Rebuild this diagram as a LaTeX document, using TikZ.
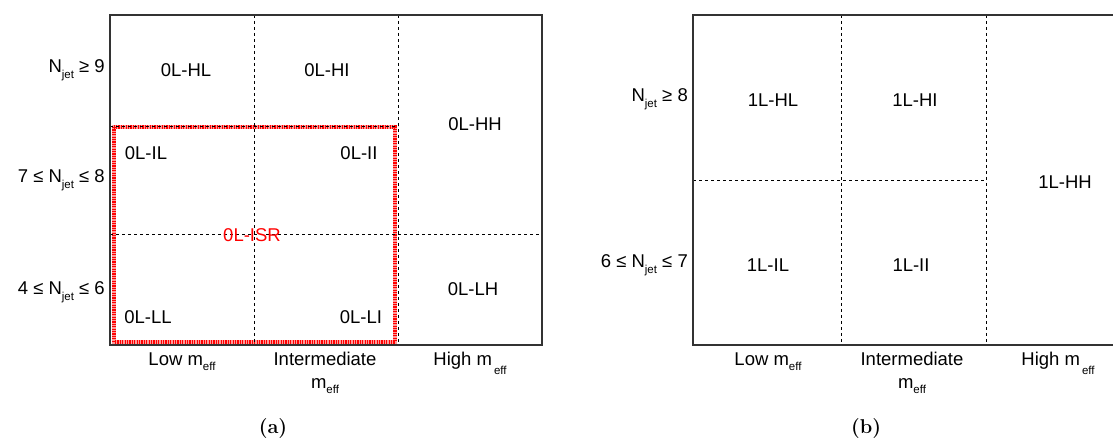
\documentclass[tikz,border=0pt]{standalone}
\usepackage{fontspec}
\newfontfamily\rootfont{Liberation Sans}
\usetikzlibrary{positioning}
\newcommand\lowsub[1]{\raisebox{-0.55ex}{\fontsize{11.5}{12}\selectfont #1}}
\newcommand\deepsub[1]{\hspace{2pt}\raisebox{-1.0ex}{\fontsize{11.5}{12}\selectfont #1}}

\begin{document}
\begin{tikzpicture}[x=1pt,y=-1pt,
  lab/.style={font=\rootfont\fontsize{18.5}{22}\selectfont, inner sep=0pt},
  rowlab/.style={lab, anchor=base east},
  collab/.style={lab, anchor=base},
  grid/.style={line width=0.9pt, dash pattern=on 3pt off 3pt},
  frame/.style={draw=black!80, line width=1.4pt},
  isrback/.style={draw=red!40, line width=3.5pt},
  isr/.style={draw=red, line width=3.5pt, dash pattern=on 1.2pt off 1.2pt},
  caption/.style={font=\fontsize{20}{24}\selectfont\bfseries, inner sep=0pt}]
\useasboundingbox (0,0) rectangle (1113,443);

%panel (a)
\draw[isrback] (114,127) rectangle (395,342);
\draw[isr] (114,127) rectangle (395,342);
\draw[grid] (254,15) -- (254,345);
\draw[grid] (398,15) -- (398,345);
\draw[grid] (110,126) -- (398,126);
\draw[grid] (110,234) -- (542,234);
\draw[frame] (110,15) rectangle (542,345);

\node[lab] (aHL) at (186,70) {0L-HL};
\node[lab] (aHI) at (327,70) {0L-HI};
\node[lab] (aHH) at (475,124) {0L-HH};
\node[lab] (aIL) at (146,153) {0L-IL};
\node[lab] (aII) at (359,153) {0L-II};
\node[lab, text=red] (aISR) at (252,235) {0L-ISR};
\node[lab] (aLL) at (148,317) {0L-LL};
\node[lab] (aLI) at (361,317) {0L-LI};
\node[lab] (aLH) at (473,289) {0L-LH};

\node[rowlab] (aH) at (105,73) {N\lowsub{jet} ≥ 9};
\node[rowlab] (aI) at (105,183) {7 ≤ N\lowsub{jet} ≤ 8};
\node[rowlab] (aL) at (105,295) {4 ≤ N\lowsub{jet} ≤ 6};

\node[collab] (aLow) at (182,365) {Low m\lowsub{eff}};
\node[collab] (aInt) at (325,365) {Intermediate};
\node[lab, below = 13pt of aInt.base] (aIntm) {m\lowsub{eff}};
\node[collab] (aHigh) at (470,365) {High m\deepsub{eff}};

\node[caption] (capa) at (273,429) {(a)};

%panel (b)
\draw[grid] (841,15) -- (841,345);
\draw[grid] (986,15) -- (986,345);
\draw[grid] (693,180) -- (986,180);
\draw[frame] (1113,15) -- (693,15) -- (693,345) -- (1113,345);

\node[lab] (bHL) at (773,100) {1L-HL};
\node[lab] (bHI) at (915,100) {1L-HI};
\node[lab] (bIL) at (768,265) {1L-IL};
\node[lab] (bII) at (911,265) {1L-II};
\node[lab] (bHH) at (1065,182) {1L-HH};

\node[rowlab] (bH) at (688,102) {N\lowsub{jet} ≥ 8};
\node[rowlab] (bL) at (688,268) {6 ≤ N\lowsub{jet} ≤ 7};

\node[collab] (bLow) at (768,365) {Low m\lowsub{eff}};
\node[collab] (bInt) at (912,365) {Intermediate};
\node[lab, below = 13pt of bInt.base] (bIntm) {m\lowsub{eff}};
\node[collab] (bHigh) at (1058,365) {High m\deepsub{eff}};

\node[caption] (capb) at (866,429) {(b)};
\end{tikzpicture}
\end{document}
